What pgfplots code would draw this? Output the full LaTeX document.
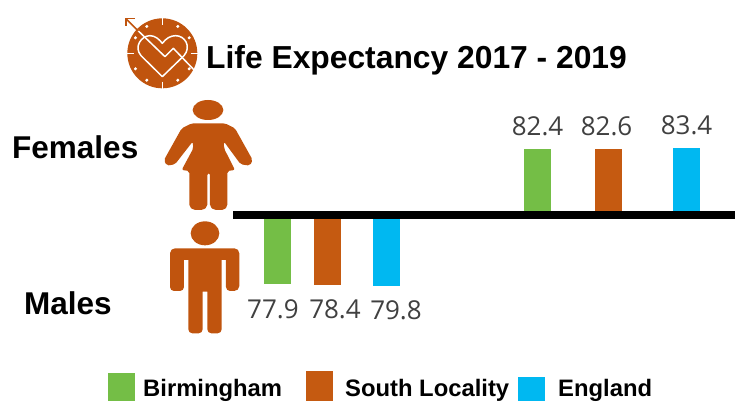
\documentclass[border=0pt]{standalone}
\usepackage{fontspec}
\setmainfont{Liberation Sans}
\newfontfamily\valfont{Open Sans}
\usepackage{pgfplots}
\pgfplotsset{compat=1.18}
\definecolor{bham}{RGB}{116,190,70}
\definecolor{south}{RGB}{197,90,17}
\definecolor{eng}{RGB}{0,184,241}
\definecolor{icon}{RGB}{192,84,14}
\definecolor{vals}{RGB}{64,64,64}
\pgfplotsset{
  lifeaxis/.style={
    at={(0pt,0pt)}, anchor=south west,
    scale only axis, width=735pt, height=401pt,
    xmin=0, xmax=735,
    hide axis, clip=false,
    ybar, bar width=27pt, bar shift=0pt,
    nodes near coords,
    /pgf/number format/assume math mode=true,
    /pgf/number format/fixed,
    /pgf/number format/precision=1,
    /pgf/number format/fixed zerofill,
  },
}
\begin{document}
\begin{tikzpicture}
\useasboundingbox (0pt,0pt) rectangle (735pt,401pt);

% females, bars go up from the black line
\begin{axis}[lifeaxis, ymin=-232.5, ymax=268.75,
  nodes near coords style={font=\valfont\fontsize{26}{30}\selectfont, text=vals, anchor=south, yshift=10pt}]
\addplot[fill=bham,draw=none] coordinates {(537.5,82.4)};
\addplot[fill=south,draw=none,nodes near coords style={xshift=-2pt}] coordinates {(608.5,82.6)};
\addplot[fill=eng,draw=none] coordinates {(686.5,83.4)};
\end{axis}

% males, bars go down from it
\begin{axis}[lifeaxis, y dir=reverse, ymin=-241.57, ymax=208.99,
  nodes near coords style={font=\valfont\fontsize{26}{30}\selectfont, text=vals, anchor=north, yshift=-11.5pt}]
\addplot[fill=bham,draw=none,nodes near coords style={xshift=-4pt}] coordinates {(277,77.9)};
\addplot[fill=south,draw=none,nodes near coords style={xshift=8pt}] coordinates {(327,78.4)};
\addplot[fill=eng,draw=none,nodes near coords style={xshift=10pt}] coordinates {(386,79.8)};
\end{axis}

% everything below in reference pixels, y downwards
\begin{scope}[x=1pt,y=-1pt,shift={(0pt,401pt)}]
\fill[black] (233,210.7) rectangle (735,219.3);

\node[anchor=base west,inner sep=0pt,font=\bfseries\fontsize{31.8}{36}\selectfont] at (206,69) {Life Expectancy 2017 - 2019};
\node[anchor=base west,inner sep=0pt,font=\bfseries\fontsize{31.5}{36}\selectfont] at (12,159) {Females};
\node[anchor=base west,inner sep=0pt,font=\bfseries\fontsize{31.5}{36}\selectfont] at (24,315) {Males};

% legend
\fill[bham] (108,373) rectangle (135,401);
\fill[south] (306,371.5) rectangle (333,401);
\fill[eng] (518,377) rectangle (545,401);
\node[anchor=base west,inner sep=0pt,font=\bfseries\fontsize{23.8}{28}\selectfont] at (143,396) {Birmingham};
\node[anchor=base west,inner sep=0pt,font=\bfseries\fontsize{23.8}{28}\selectfont] at (345,396) {South Locality};
\node[anchor=base west,inner sep=0pt,font=\bfseries\fontsize{23.8}{28}\selectfont] at (558,396) {England};
\end{scope}

% woman and man, coordinates at 3x
\begin{scope}[x=0.3333pt,y=-0.3333pt,shift={(150pt,306pt)}]
\fill[icon] (174,45) ellipse (46 and 30);
\fill[icon,rounded corners=2pt] (125,85) -- (95,100) -- (42,195) -- (50,212) -- (75,208) -- (128,140)
  -- (130,160) -- (95,225) -- (118,228) -- (118,335) -- (130,345) -- (160,345) -- (172,335) -- (172,235)
  -- (180,235) -- (180,335) -- (192,345) -- (222,345) -- (232,335) -- (232,228) -- (255,225) -- (222,160)
  -- (222,140) -- (272,208) -- (300,212) -- (308,195) -- (255,100) -- (225,85) -- cycle;
\fill[icon] (165,415) ellipse (43 and 36);
\fill[icon,rounded corners=5pt] (60,460) -- (268,460) -- (268,588) [rounded corners=4pt] -- (228,588)
  [sharp corners] -- (228,495) -- (215,495) [rounded corners=4pt] -- (215,715) -- (172,715)
  [sharp corners] -- (172,590) -- (158,590) [rounded corners=4pt] -- (158,715) -- (115,715)
  [sharp corners] -- (115,495) -- (102,495) [rounded corners=4pt] -- (102,588) -- (60,588)
  [rounded corners=5pt] -- cycle;
\end{scope}

% clock and heart, coordinates at 3x
\begin{scope}[x=0.3333pt,y=-0.3333pt,shift={(110pt,396pt)}]
\fill[icon] (157,145) circle (105);
\foreach \a in {0,90,180,270}
  \draw[white,line width=1.5pt] (157,145) ++(\a:85) -- ++(\a:24);
\foreach \a in {30,60,120,150,210,240,300,330}
  \fill[white] (157,145) ++(\a:93) circle (5);
\draw[white,line width=1.5pt,line join=round]
  (157,215) -- (93,152) .. controls (70,125) and (95,92) .. (120,92)
  .. controls (135,92) and (148,103) .. (157,115)
  .. controls (168,100) and (182,92) .. (197,92)
  .. controls (225,92) and (245,125) .. (222,152) -- cycle;
\draw[white,line width=1.5pt,line join=round] (82,75) -- (165,155) -- (190,130) -- (262,205);
\draw[icon,line width=1.6pt] (48,41) -- (85,78);
\draw[icon,line width=1.6pt] (75,40) -- (48,40) -- (48,62);
\end{scope}
\end{tikzpicture}
\end{document}
